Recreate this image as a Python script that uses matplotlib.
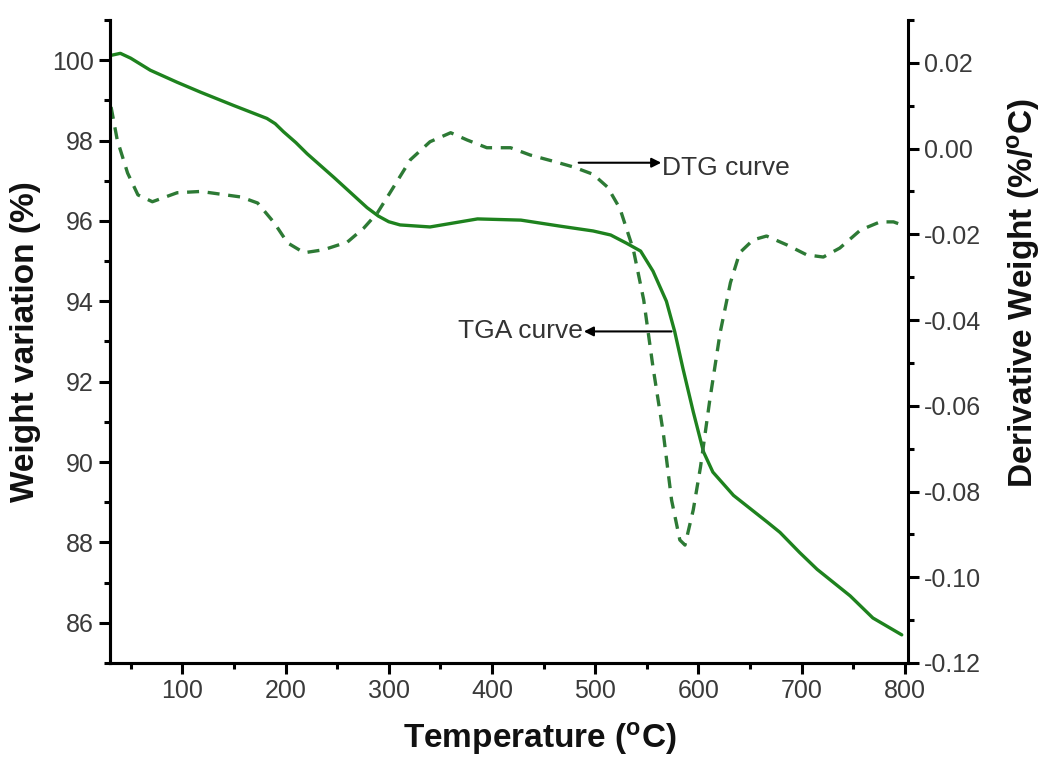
import matplotlib
matplotlib.use("Agg")
import matplotlib.pyplot as plt
from matplotlib.ticker import MultipleLocator

plt.rcParams["font.family"] = ["Liberation Sans", "DejaVu Sans"]
plt.rcParams["mathtext.fontset"] = "custom"
plt.rcParams["mathtext.rm"] = "Liberation Sans"
plt.rcParams["mathtext.bf"] = "Liberation Sans:bold"

# TGA: weight (%) vs temperature (C)
tga_temp = [31, 40, 50, 69, 95, 118, 150, 182, 190, 198, 210, 221, 247, 279, 290,
            300, 311, 340, 386, 428, 466, 498, 515, 530, 544, 556, 569, 577, 585,
            595, 605, 614, 634, 667, 679, 698, 715, 731, 747, 769, 797]
tga_weight = [100.12, 100.17, 100.05, 99.75, 99.45, 99.2, 98.87, 98.55, 98.42,
              98.22, 97.95, 97.67, 97.08, 96.33, 96.12, 95.98, 95.9, 95.85, 96.05,
              96.02, 95.87, 95.75, 95.65, 95.45, 95.25, 94.75, 94.0, 93.25, 92.33,
              91.25, 90.25, 89.75, 89.17, 88.5, 88.25, 87.75, 87.33, 87.0, 86.67,
              86.12, 85.7]

# DTG: derivative weight (%/C) vs temperature (C)
dtg_temp = [31, 37, 47, 57, 71, 95, 118, 157, 173, 189, 202, 218, 237, 260, 276,
            289, 302, 321, 340, 360, 376, 395, 418, 437, 460, 479, 498, 512, 524,
            537, 547, 556, 566, 574, 582, 587, 595, 602, 611, 621, 631, 640, 653,
            666, 686, 705, 721, 737, 757, 776, 789, 797]
dtg_value = [0.0097, 0.002, -0.0057, -0.0108, -0.0124, -0.0103, -0.010, -0.0113,
             -0.0127, -0.0173, -0.022, -0.0243, -0.0236, -0.0218, -0.0185, -0.015,
             -0.0100, -0.0026, 0.0016, 0.0037, 0.002, 0.0002, 0.0002, -0.0015,
             -0.003, -0.0043, -0.0060, -0.0090, -0.0140, -0.0236, -0.0353, -0.051,
             -0.0664, -0.082, -0.0913, -0.0925, -0.0843, -0.0743, -0.0587, -0.043,
             -0.0313, -0.0243, -0.0213, -0.0204, -0.0225, -0.0248, -0.0253, -0.0232,
             -0.019, -0.0171, -0.0171, -0.0178]

fig = plt.figure(figsize=(10.41, 7.57), dpi=100)
ax = fig.add_axes([0.1057, 0.1242, 0.7665, 0.8494])
ax2 = ax.twinx()

ax.plot(tga_temp, tga_weight, color="#1e821e", lw=2.4, solid_capstyle="round")
ax2.plot(dtg_temp, dtg_value, color="#2d7a35", lw=2.4, dashes=(3.6, 2.6))

ax.set_xlim(30, 803)
ax.set_ylim(85, 101)
ax2.set_ylim(-0.12, 0.03)

ax.xaxis.set_major_locator(MultipleLocator(100))
ax.xaxis.set_minor_locator(MultipleLocator(50))
ax.yaxis.set_major_locator(MultipleLocator(2))
ax.yaxis.set_minor_locator(MultipleLocator(1))
ax2.yaxis.set_major_locator(MultipleLocator(0.02))
ax2.yaxis.set_minor_locator(MultipleLocator(0.01))
ax2.yaxis.set_major_formatter(plt.FormatStrFormatter("%.2f"))

for a in (ax, ax2):
    a.spines["top"].set_visible(False)
    for s in ("left", "right", "bottom"):
        a.spines[s].set_linewidth(2.2)
    a.tick_params(which="major", direction="out", length=8, width=2.2,
                  labelsize=18, labelcolor="#3a3a3a")
    a.tick_params(which="minor", direction="out", length=4.5, width=2.2)
ax.spines["right"].set_visible(False)

ax.set_xlabel("Temperature ($\\mathbf{^{o}}$C)", fontsize=24, fontweight="bold",
              color="#111111")
ax.set_ylabel("Weight variation (%)", fontsize=24, fontweight="bold",
              color="#111111", labelpad=8)
ax2.set_ylabel("Derivative Weight (%/$\\mathbf{^{o}}$C)", fontsize=24,
               fontweight="bold", color="#111111")
ax.xaxis.set_label_coords(0.539, -0.088)
ax2.yaxis.set_label_coords(1.122, 0.575)

# curve labels with arrows
ax2.annotate("", xy=(564, -0.0033), xytext=(484, -0.0033),
             arrowprops=dict(arrowstyle="-|>", color="black", lw=1.5,
                             mutation_scale=14, shrinkA=0, shrinkB=0))
ax2.text(565, -0.0045, "DTG curve", fontsize=19, color="#333333",
         va="center", ha="left")
ax.annotate("", xy=(489, 93.25), xytext=(574, 93.25),
            arrowprops=dict(arrowstyle="-|>", color="black", lw=1.5,
                            mutation_scale=14, shrinkA=0, shrinkB=0))
ax.text(488, 93.25, "TGA curve", fontsize=19, color="#333333",
        va="center", ha="right")

fig.savefig("out.png", dpi=100)
